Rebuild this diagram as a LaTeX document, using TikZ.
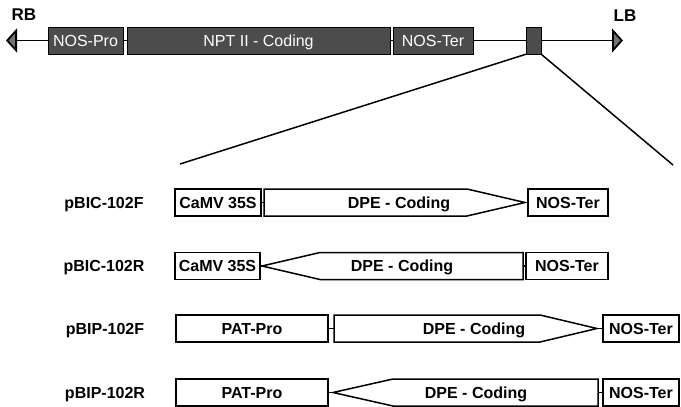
\documentclass[tikz,border=0pt]{standalone}
\usepackage{fontspec}
\setsansfont{Liberation Sans}
\usetikzlibrary{arrows.meta}

\tikzset{
  gene/.style={draw, line width=1.5pt, fill=white, minimum height=27, inner sep=0pt,
    text height=11.5pt, text depth=0pt,
    font=\sffamily\bfseries\fontsize{16}{19}\selectfont},
  topgene/.style={draw=black, line width=0.6pt, fill=black!70, text=white,
    minimum height=27, inner sep=0pt, text height=11.5pt, text depth=0pt,
    font=\sffamily\fontsize{16}{19}\selectfont},
  lbl/.style={text height=11.5pt, text depth=0pt,
    font=\sffamily\bfseries\fontsize{16}{19}\selectfont},
  link/.style={line width=1.5pt},
  tdna/.tip={Triangle[length=11pt, width=24pt, fill=black!55]}
}

\begin{document}
\begin{tikzpicture}[x=1pt, y=-1pt]

  % Fix the size of the picture
  \useasboundingbox (0,0) rectangle (681,407);

  % T-DNA backbone with the two borders
  \coordinate (rbtip) at (6,40.5);
  \coordinate (lbtip) at (623,40.5);
  \draw[line width=1.8pt, {tdna}-{tdna}] (rbtip) -- (lbtip);
  \node[lbl, font=\sffamily\bfseries\fontsize{17}{20}\selectfont] (rb) at (24,15) {RB};
  \node[lbl, font=\sffamily\bfseries\fontsize{17}{20}\selectfont] (lb) at (625,16) {LB};

  % Genes on the T-DNA
  \node[topgene, minimum width=75] (nospro) at (85.5,40.5) {NOS-Pro};
  \node[topgene, minimum width=263] (nptii) at (258.5,40.5) {NPT II - Coding};
  \node[topgene, minimum width=80] (noster) at (433,40.5) {NOS-Ter};
  % Insertion site
  \node[topgene, minimum width=15] (site) at (533.5,40.5) {};

  % Zoom lines to the inserts
  \coordinate (zoomL) at (180,164);
  \coordinate (zoomR) at (673,165);
  \draw[link] (site.south west) -- (zoomL);
  \draw[link] (site.south east) -- (zoomR);

  % pBIC-102F
  \node[lbl] (nameA) at (104,202.5) {pBIC-102F};
  \node[gene, minimum width=86] (camvA) at (218,202.5) {CaMV 35S};
  \coordinate (dpeAtail) at (264,202.5);
  \coordinate (dpeAtip) at (525,202.5);
  \draw[link, fill=white] (264,189) -- (467,189) -- (dpeAtip) -- (467,216) -- (264,216) -- cycle;
  \node[lbl] (dpeA) at (399,202.5) {DPE - Coding};
  \node[gene, minimum width=80] (nosA) at (568,202.5) {NOS-Ter};
  \draw[link] (camvA) -- (dpeAtail);
  \draw[link] (dpeAtip) -- (nosA);

  % pBIC-102R
  \node[lbl] (nameB) at (104,266) {pBIC-102R};
  \node[gene, minimum width=85] (camvB) at (217.5,266) {CaMV 35S};
  \coordinate (dpeBtip) at (262,266);
  \coordinate (dpeBtail) at (523,266);
  \draw[link, fill=white] (dpeBtip) -- (320,252.5) -- (523,252.5) -- (523,279.5) -- (320,279.5) -- cycle;
  \node[lbl] (dpeB) at (402,266) {DPE - Coding};
  \node[gene, minimum width=82] (nosB) at (567,266) {NOS-Ter};
  \draw[link] (camvB) -- (dpeBtip);
  \draw[link] (dpeBtail) -- (nosB);

  % pBIP-102F
  \node[lbl] (nameC) at (105,328.5) {pBIP-102F};
  \node[gene, minimum width=152] (patC) at (252,328.5) {PAT-Pro};
  \coordinate (dpeCtail) at (334,328.5);
  \coordinate (dpeCtip) at (597,328.5);
  \draw[link, fill=white] (334,315) -- (540,315) -- (dpeCtip) -- (540,342) -- (334,342) -- cycle;
  \node[lbl] (dpeC) at (474,328.5) {DPE - Coding};
  \node[gene, minimum width=76] (nosC) at (641,328.5) {NOS-Ter};
  \draw[link] (patC) -- (dpeCtail);
  \draw[link] (dpeCtip) -- (nosC);

  % pBIP-102R
  \node[lbl] (nameD) at (105,392.5) {pBIP-102R};
  \node[gene, minimum width=152] (patD) at (252,392.5) {PAT-Pro};
  \coordinate (dpeDtip) at (333,392.5);
  \coordinate (dpeDtail) at (598,392.5);
  \draw[link, fill=white] (dpeDtip) -- (393,379) -- (598,379) -- (598,406) -- (393,406) -- cycle;
  \node[lbl] (dpeD) at (476,392.5) {DPE - Coding};
  \node[gene, minimum width=76] (nosD) at (641,392.5) {NOS-Ter};
  \draw[link] (patD) -- (dpeDtip);
  \draw[link] (dpeDtail) -- (nosD);

\end{tikzpicture}
\end{document}
